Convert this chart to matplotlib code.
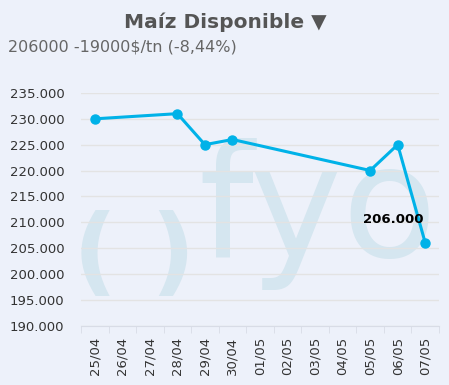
import matplotlib
matplotlib.use("Agg")
import matplotlib.pyplot as plt
from matplotlib.ticker import FuncFormatter

# Chart data
dates = ['25/04', '26/04', '27/04', '28/04', '29/04', '30/04', '01/05',
         '02/05', '03/05', '04/05', '05/05', '06/05', '07/05']
price_dates = ['25/04', '28/04', '29/04', '30/04', '05/05', '06/05', '07/05']
prices = [230000, 231000, 225000, 226000, 220000, 225000, 206000]
title = 'Maíz Disponible ▼'
subtitle = '206000 -19000$/tn (-8,44%)'

bg = '#EDF1FA'
line_color = '#00B2E8'
mark_color = '#D5E6F0'

fig = plt.figure(figsize=(4.49, 3.85), dpi=100, facecolor=bg)
ax = fig.add_axes([81 / 449, (385 - 325.5) / 385, 358 / 449, 232.5 / 385])
ax.patch.set_visible(False)
ax.set_zorder(2)

# Watermark "( )fyo", drawn behind the axes
fig.text(95 / 449, 1 - 256 / 385, '(', fontsize=70, color=mark_color,
         ha='center', va='center', fontweight='bold', zorder=-1)
fig.text(172 / 449, 1 - 256 / 385, ')', fontsize=70, color=mark_color,
         ha='center', va='center', fontweight='bold', zorder=-1)
fig.text(318 / 449, 1 - 257 / 385, 'fyo', fontsize=112, color=mark_color,
         ha='center', va='baseline', zorder=-1)

xs = [dates.index(d) for d in price_dates]
ax.plot(xs, prices, color=line_color, linewidth=2.2, marker='o',
        markersize=6.5, zorder=3)
ax.annotate('206.000', (xs[-1], prices[-1]), xytext=(-1, 16.5),
            textcoords='offset points', ha='right', va='center',
            fontsize=9.5, fontweight='bold', color='black', zorder=4)

ax.set_ylim(190000, 235000)
ax.set_yticks(range(190000, 235001, 5000))
ax.yaxis.set_major_formatter(FuncFormatter(lambda v, p: f'{int(v):,}'.replace(',', '.')))
ax.set_xlim(-0.5, len(dates) - 0.5)
ax.set_xticks(range(len(dates)))
ax.set_xticklabels(dates, rotation=90)
ax.set_xticks([i - 0.5 for i in range(len(dates) + 1)], minor=True)
ax.tick_params(axis='x', which='major', length=0, pad=8, labelsize=9.5,
               labelcolor='#333333')
ax.tick_params(axis='x', which='minor', length=5, color='#D8DCE6')
ax.tick_params(axis='y', length=0, pad=12, labelsize=9.5, labelcolor='#333333')

ax.grid(axis='y', color='#E3E3E3', linewidth=1, zorder=1)
for s in ['top', 'right', 'left']:
    ax.spines[s].set_visible(False)
ax.spines['bottom'].set_color('#D8DCE6')

fig.text(225 / 449, 1 - 22 / 385, title, ha='center', va='center',
         fontsize=14.5, fontweight='bold', color='#555555')
fig.text(8 / 449, 1 - 47 / 385, subtitle, ha='left', va='center',
         fontsize=11.5, color='#666666')

fig.savefig('out.png', dpi=100, facecolor=bg)
